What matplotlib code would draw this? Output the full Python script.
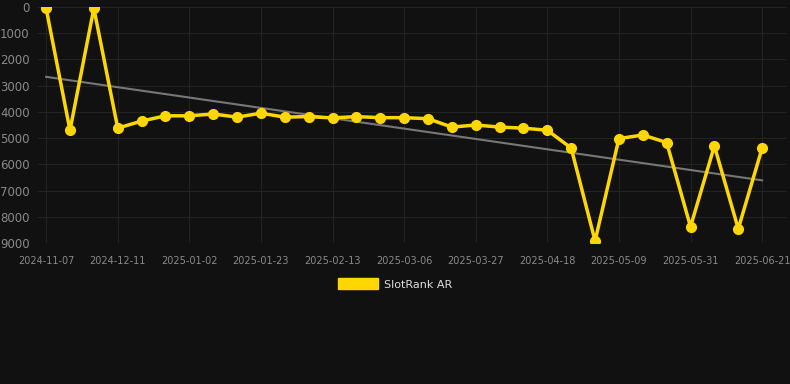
import numpy as np
import matplotlib
matplotlib.use("Agg")
from matplotlib import pyplot as plt
from matplotlib.patches import Patch

dates = ["2024-11-07", "", "", "2024-12-11", "", "", "2025-01-02", "", "",
         "2025-01-23", "", "", "2025-02-13", "", "", "2025-03-06", "", "",
         "2025-03-27", "", "", "2025-04-18", "", "", "2025-05-09", "", "",
         "2025-05-31", "", "", "2025-06-21"]
rank = [50, 4700, 50, 4620, 4350, 4150, 4150, 4080, 4200, 4050, 4200,
        4180, 4230, 4180, 4220, 4220, 4260, 4580, 4500, 4580, 4620, 4700,
        5380, 8920, 5020, 4880, 5170, 8380, 5300, 8460, 5380]

x = np.arange(len(rank))
k, b = np.polyfit(x, rank, 1)
trend = k * x + b

bg = "#111111"
fig = plt.figure(figsize=(7.9, 3.84), dpi=100, facecolor=bg)
ax = fig.add_axes([38 / 790, 1 - 243 / 384, (786 - 38) / 790, (243 - 7) / 384])
ax.set_facecolor(bg)

ax.plot(x, trend, color="#777777", lw=1.5, zorder=2)
ax.plot(x, rank, color="#FFD700", lw=2.5, marker="o", ms=7, zorder=3)

ax.set_xlim(-0.34, 31.0)
ax.set_ylim(9000, 0)
ticks = [i for i in x if dates[i]]
ax.set_xticks(ticks)
ax.set_xticklabels([dates[i] for i in ticks])
ax.set_yticks(range(0, 9001, 1000))
ax.grid(True, color="#232323", lw=0.8)
ax.tick_params(colors="#888888", labelsize=8.5, length=0, pad=6)
ax.tick_params(axis="x", labelsize=7, pad=9)
for lbl in ax.get_xticklabels() + ax.get_yticklabels():
    lbl.set_color("#8a8a8a")
for s in ax.spines.values():
    s.set_visible(False)

fig.legend(handles=[Patch(color="#FFD700", label="SlotRank AR")],
           loc="center", bbox_to_anchor=(0.5, 1 - 284 / 384), frameon=False,
           labelcolor="#dddddd", fontsize=8, handlelength=3.6, handleheight=1.1,
           handletextpad=0.5)

fig.savefig("out.png", dpi=100, facecolor=bg)
